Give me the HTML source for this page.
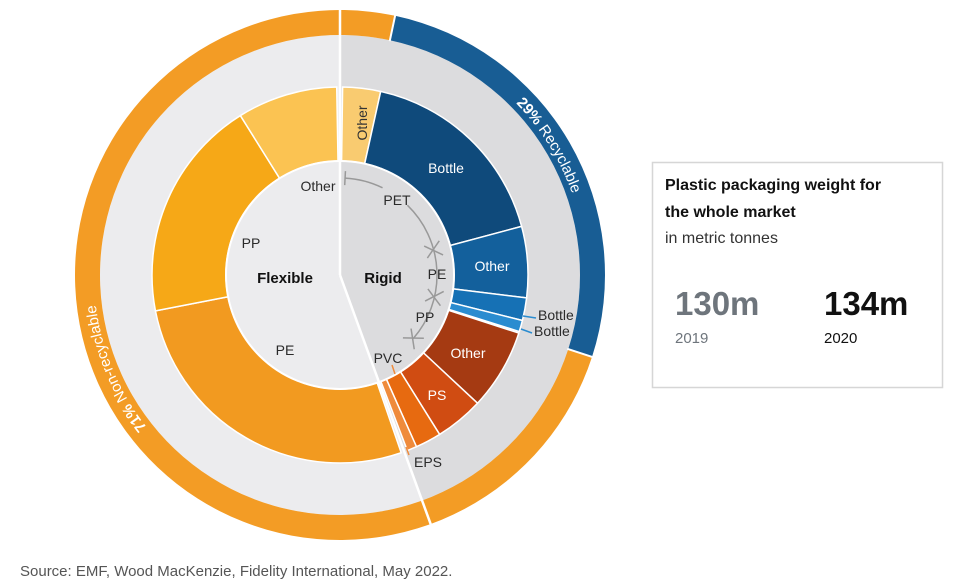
<!DOCTYPE html>
<html><head><meta charset="utf-8"><style>
body{margin:0;background:#fff;width:960px;height:586px;overflow:hidden;font-family:"Liberation Sans",sans-serif}
svg{position:absolute;left:0;top:0}
</style></head><body>
<svg id="s" width="960" height="586" viewBox="0 0 960 586" font-family="Liberation Sans, sans-serif">
<defs>
<path id="tpR" d="M 340 29 A 246 246 0 0 1 586 275"/>
<path id="tpL" d="M 340 521 A 246 246 0 0 1 94 275 A 246 246 0 0 1 340 29"/>
</defs>
<g id="g"></g>
<g id="t" fill="#2a2a2a" font-size="14">
<text x="318" y="191" text-anchor="middle">Other</text>
<text x="251" y="248" text-anchor="middle">PP</text>
<text x="285" y="283" text-anchor="middle" font-weight="bold" font-size="15" fill="#111">Flexible</text>
<text x="285" y="355" text-anchor="middle">PE</text>
<text x="383" y="283" text-anchor="middle" font-weight="bold" font-size="15" fill="#111">Rigid</text>
<text x="397" y="205" text-anchor="middle">PET</text>
<text x="437" y="279" text-anchor="middle">PE</text>
<text x="425" y="322" text-anchor="middle">PP</text>
<text x="388" y="363" text-anchor="middle">PVC</text>
<text x="428" y="467" text-anchor="middle">EPS</text>
<text x="538" y="320">Bottle</text>
<text x="534" y="336">Bottle</text>
</g>
<g fill="#fff" font-size="14" text-anchor="middle">
<text x="446" y="173">Bottle</text>
<text x="492" y="271">Other</text>
<text x="468" y="358">Other</text>
<text x="437" y="400">PS</text>
<text transform="translate(367,123) rotate(-90)" fill="#333" font-size="14">Other</text>
</g>
<g fill="#fff" font-size="15">
<text><textPath href="#tpR" startOffset="196"><tspan font-weight="bold">29%</tspan> Recyclable</textPath></text>
<text><textPath href="#tpL" startOffset="222"><tspan font-weight="bold">71%</tspan> Non-recyclable</textPath></text>
</g>
<rect x="652.5" y="162.5" width="290" height="225" fill="#fff" stroke="#d6d6d6" stroke-width="1.5"/>
<text x="665" y="190" font-size="16" font-weight="bold" fill="#111">Plastic packaging weight for</text>
<text x="665" y="217" font-size="16" font-weight="bold" fill="#111">the whole market</text>
<text x="665" y="243" font-size="16" fill="#333">in metric tonnes</text>
<text x="675" y="315" font-size="33" font-weight="bold" fill="#6e757c">130m</text>
<text x="824" y="315" font-size="33" font-weight="bold" fill="#111">134m</text>
<text x="675" y="343" font-size="15" fill="#6e757c">2019</text>
<text x="824" y="343" font-size="15" fill="#111">2020</text>
<text x="20" y="576" font-size="15" fill="#555">Source: EMF, Wood MacKenzie, Fidelity International, May 2022.</text>
</svg>
<script>
var cx=340,cy=275,g=document.getElementById('g'),NS='http://www.w3.org/2000/svg';
function P(r,a){a=a*Math.PI/180;return [cx+r*Math.sin(a),cy-r*Math.cos(a)];}
function seg(r0,r1,a0,a1,fill,stroke,sw){
 var p=document.createElementNS(NS,'path');var L=(a1-a0)>180?1:0;
 var A=P(r1,a0),B=P(r1,a1),C=P(r0,a1),D=P(r0,a0);
 var d='M'+A+' A'+r1+' '+r1+' 0 '+L+' 1 '+B+' L'+C+(r0>0?' A'+r0+' '+r0+' 0 '+L+' 0 '+D:'')+' Z';
 p.setAttribute('d',d);p.setAttribute('fill',fill);
 if(stroke){p.setAttribute('stroke',stroke);p.setAttribute('stroke-width',sw||1.5);}
 g.insertBefore(p,null);}
function line(a,b,col,w){var l=document.createElementNS(NS,'line');l.setAttribute('x1',a[0]);l.setAttribute('y1',a[1]);l.setAttribute('x2',b[0]);l.setAttribute('y2',b[1]);l.setAttribute('stroke',col);l.setAttribute('stroke-width',w||1.5);g.appendChild(l);}
function arc(r,a0,a1,col){var p=document.createElementNS(NS,'path');var A=P(r,a0),B=P(r,a1);p.setAttribute('d','M'+A+' A'+r+' '+r+' 0 0 1 '+B);p.setAttribute('fill','none');p.setAttribute('stroke',col);p.setAttribute('stroke-width',1.5);g.appendChild(p);}
seg(0,240,160,360,'#ececee');
seg(0,240,0,160,'#dcdcde');
seg(240,265,108,372,'#f39c25');
seg(240,265,12,108,'#185d94');
line(P(239,12),P(266,12),'#fff',2);line(P(239,108),P(266,108),'#fff',2);
var S=[[0.8,12.5,'#f9cb70'],[12.5,75,'#0f4a7b'],[75,97,'#13609c'],[97,104,'#1671b5'],[104,107.5,'#2a8cd0'],
[108,133,'#a53a12'],[133,148,'#d04c12'],[148,156,'#e76a10'],[156,159,'#ef8b3c'],
[161,259,'#f29a20'],[259,328,'#f6a817'],[328,359,'#fbc352']];
S.forEach(function(s){seg(114,188,s[0],s[1],s[2],'#fff',1.5);});
seg(0,113,160,360,'#ececee');seg(0,113,0,160,'#dcdcde');
var c=document.createElementNS(NS,'circle');c.setAttribute('cx',cx);c.setAttribute('cy',cy);c.setAttribute('r',114);c.setAttribute('fill','none');c.setAttribute('stroke','#fff');c.setAttribute('stroke-width',2);g.appendChild(c);
line([cx,cy-266],[cx,cy],'#fff',2.5);line([cx,cy],P(266,160),'#fff',2.5);
arc(97,3,26,'#999');arc(97,44,131,'#999');
[3].forEach(function(a){line(P(90,a),P(104,a),'#999');});
[75,103,131].forEach(function(a){line(P(89,a-4),P(105,a+4),'#999');line(P(89,a+4),P(105,a-4),'#999');});
line([523,316],[536,318],'#2a8cd0');line([521,329],[532,333],'#2a8cd0');
line([392,365],[395,374],'#ef8b3c');line([406,447],[409,455],'#ef8b3c');
</script>
</body></html>
